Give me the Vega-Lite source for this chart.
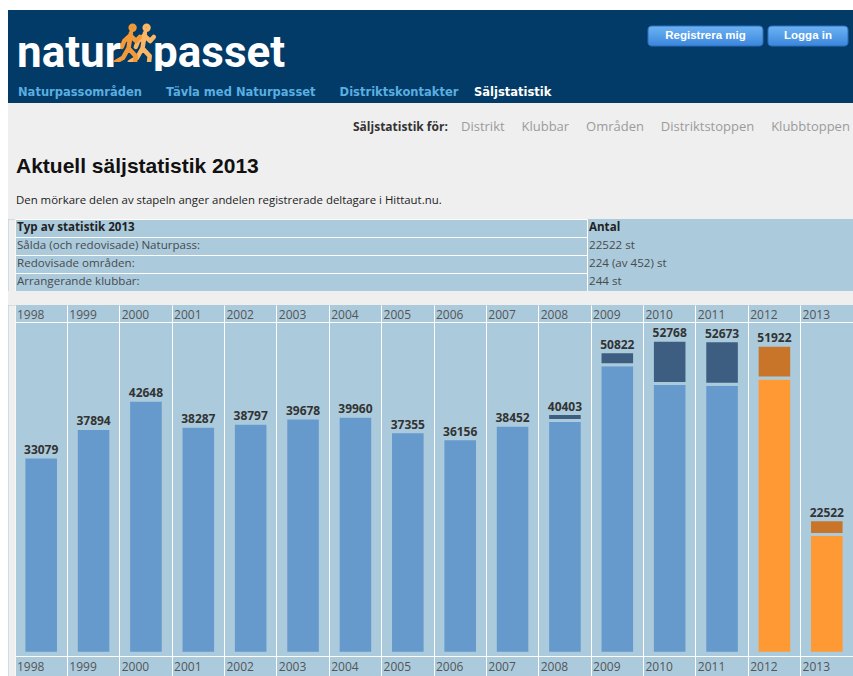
{
  "$schema": "https://vega.github.io/schema/vega-lite/v6.json",
  "background": "white",
  "padding": {"left": 8, "top": 10, "right": 0, "bottom": 0},
  "config": {"view": {"stroke": null}, "concat": {"spacing": 0}, "font": "Open Sans"},
  "spacing": 0,
  "bounds": "flush",
  "resolve": {"scale": {"color": "independent", "stroke": "independent", "shape": "independent"}},
  "vconcat": [
    {
      "width": 845, "height": 52, "view": {"fill": "#023b67"},
      "layer": [
        {
          "data": {"values": [{"knapp": "Registrera mig"}, {"knapp": "Logga in"}]},
          "mark": {"type": "point", "filled": true, "opacity": 1, "size": 13225,
            "fill": {"gradient": "linear", "x1": 0, "y1": 0, "x2": 0, "y2": 1, "stops": [{"offset": 0, "color": "#6db3f3"}, {"offset": 1, "color": "#3b86dc"}]},
            "stroke": "#2c6fbf", "strokeWidth": 1},
          "encoding": {
            "x": {"field": "knapp", "type": "nominal", "scale": {"type": "point", "domain": ["Registrera mig", "Logga in"], "range": [697.5, 800], "padding": 0}, "axis": null},
            "shape": {"field": "knapp", "type": "nominal", "scale": {"domain": ["Registrera mig", "Logga in"], "range": [
              "M-0.9304,-0.1739L0.9304,-0.1739Q1,-0.1739 1,-0.1043L1,0.1043Q1,0.1739 0.9304,0.1739L-0.9304,0.1739Q-1,0.1739 -1,0.1043L-1,-0.1043Q-1,-0.1739 -0.9304,-0.1739Z",
              "M-0.6261,-0.1739L0.6261,-0.1739Q0.6957,-0.1739 0.6957,-0.1043L0.6957,0.1043Q0.6957,0.1739 0.6261,0.1739L-0.6261,0.1739Q-0.6957,0.1739 -0.6957,0.1043L-0.6957,-0.1043Q-0.6957,-0.1739 -0.6261,-0.1739Z"
            ]}, "legend": null}
          }
        },
        {
          "data": {"values": [{"knapp": "Registrera mig"}, {"knapp": "Logga in"}]},
          "mark": {"type": "text", "font": "Liberation Sans Narrow, Liberation Sans", "fontWeight": "bold", "fontSize": 11.5, "fill": "#ffffff", "align": "center", "baseline": "middle"},
          "encoding": {
            "text": {"field": "knapp"},
            "x": {"field": "knapp", "type": "nominal", "scale": {"type": "point", "domain": ["Registrera mig", "Logga in"], "range": [697.5, 800], "padding": 0}, "axis": null}
          }
        },
        {
          "data": {"values": [{"figur": "höger"}, {"figur": "vänster"}]},
          "mark": {"type": "point", "filled": false, "opacity": 1, "size": 2304, "strokeWidth": 4.5, "strokeCap": "round", "strokeJoin": "round",
            "shape": "M0.07,-0.342A0.08,0.08 0 1,1 0.23,-0.342A0.08,0.08 0 1,1 0.07,-0.342Z M0.08,-0.122L-0.02,0.508L0.28,0.838L0.22,1.378 M-0.02,0.508L-0.25,0.908L-0.55,1.078 M0.05,-0.022L0.3,0.208L0.45,0.038 M0.05,-0.022L-0.2,0.208L-0.3,0.458"},
          "encoding": {
            "x": {"field": "figur", "type": "nominal", "scale": {"type": "point", "domain": ["vänster", "höger"], "range": [121, 135], "padding": 0}, "axis": null},
            "stroke": {"field": "figur", "type": "nominal", "scale": {"domain": ["vänster", "höger"], "range": ["#f3993a", "#fbb766"]}, "legend": null}
          }
        }
      ],
      "resolve": {"scale": {"x": "independent"}}
    },
    {
      "width": 845, "height": 9, "view": {"fill": "#023b67"},
      "data": {"values": [{"ord": "natur"}, {"ord": "passet"}]},
      "mark": {"type": "text", "font": "Roboto", "fontWeight": "bold", "fontSize": 44, "fill": "#ffffff", "align": "left", "baseline": "alphabetic"},
      "encoding": {
        "text": {"field": "ord"},
        "x": {"field": "ord", "type": "nominal", "scale": {"type": "point", "domain": ["natur", "passet"], "range": [9, 145], "padding": 0}, "axis": null}
      }
    },
    {
      "width": 845, "height": 32, "view": {"fill": "#023b67"},
      "data": {"values": [
        {"meny": "Naturpassområden\u00a0\u00a0\u00a0\u00a0\u00a0\u00a0Tävla med Naturpasset\u00a0\u00a0\u00a0\u00a0\u00a0\u00a0Distriktskontakter", "aktiv": "nej"},
        {"meny": "Säljstatistik", "aktiv": "ja"}
      ]},
      "mark": {"type": "text", "font": "DejaVu Sans", "fontWeight": "bold", "fontSize": 11.5, "align": "left", "baseline": "top"},
      "encoding": {
        "text": {"field": "meny"},
        "x": {"field": "meny", "type": "nominal", "sort": null, "scale": {"type": "point", "range": [10, 466], "padding": 0}, "axis": null},
        "color": {"field": "aktiv", "type": "nominal", "scale": {"domain": ["nej", "ja"], "range": ["#5aaee0", "#ffffff"]}, "legend": null}
      }
    },
    {
      "width": 845, "height": 55, "view": {"fill": "#efefef"},
      "encoding": {
        "x": {"field": "text", "type": "nominal", "scale": {"type": "point", "domain": ["Säljstatistik för:", "Distrikt\u00a0\u00a0\u00a0\u00a0\u00a0Klubbar\u00a0\u00a0\u00a0\u00a0\u00a0Områden\u00a0\u00a0\u00a0\u00a0\u00a0Distriktstoppen\u00a0\u00a0\u00a0\u00a0\u00a0Klubbtoppen"], "range": [345, 453], "padding": 0}, "axis": null},
        "text": {"field": "text"}
      },
      "layer": [
        {
          "data": {"values": [{"text": "Säljstatistik för:"}]},
          "mark": {"type": "text", "font": "Open Sans", "fontWeight": "bold", "fontSize": 12, "fill": "#333333", "align": "left", "baseline": "alphabetic"}
        },
        {
          "data": {"values": [{"text": "Distrikt\u00a0\u00a0\u00a0\u00a0\u00a0Klubbar\u00a0\u00a0\u00a0\u00a0\u00a0Områden\u00a0\u00a0\u00a0\u00a0\u00a0Distriktstoppen\u00a0\u00a0\u00a0\u00a0\u00a0Klubbtoppen"}]},
          "mark": {"type": "text", "font": "Open Sans", "fontSize": 13, "fill": "#9b9b9b", "align": "left", "baseline": "alphabetic", "limit": 390, "ellipsis": ""}
        }
      ]
    },
    {
      "width": 845, "height": 30, "view": {"fill": "#efefef"},
      "data": {"values": [{"text": "Aktuell säljstatistik 2013"}]},
      "mark": {"type": "text", "font": "Liberation Sans", "fontWeight": "bold", "fontSize": 21, "fill": "#111111", "align": "left", "baseline": "alphabetic"},
      "encoding": {
        "text": {"field": "text"},
        "x": {"field": "text", "type": "nominal", "scale": {"type": "point", "range": [8, 8], "padding": 0}, "axis": null}
      }
    },
    {
      "width": 845, "height": 31, "view": {"fill": "#efefef"},
      "data": {"values": [{"text": "Den mörkare delen av stapeln anger andelen registrerade deltagare i Hittaut.nu."}]},
      "mark": {"type": "text", "font": "Open Sans", "fontSize": 11.4, "fill": "#222222", "align": "left", "baseline": "alphabetic"},
      "encoding": {
        "text": {"field": "text"},
        "x": {"field": "text", "type": "nominal", "scale": {"type": "point", "range": [8, 8], "padding": 0}, "axis": null}
      }
    },
    {
      "width": 845, "height": 72, "view": {"fill": "#abcbdd"},
      "data": {"values": [
        {"rad": "Typ av statistik 2013", "kolumn": "typ", "text": "Typ av statistik 2013", "rubrik": "ja"},
        {"rad": "Typ av statistik 2013", "kolumn": "antal", "text": "Antal", "rubrik": "ja"},
        {"rad": "Sålda (och redovisade) Naturpass:", "kolumn": "typ", "text": "Sålda (och redovisade) Naturpass:", "rubrik": "nej"},
        {"rad": "Sålda (och redovisade) Naturpass:", "kolumn": "antal", "text": "22522 st", "rubrik": "nej"},
        {"rad": "Redovisade områden:", "kolumn": "typ", "text": "Redovisade områden:", "rubrik": "nej"},
        {"rad": "Redovisade områden:", "kolumn": "antal", "text": "224 (av 452) st", "rubrik": "nej"},
        {"rad": "Arrangerande klubbar:", "kolumn": "typ", "text": "Arrangerande klubbar:", "rubrik": "nej"},
        {"rad": "Arrangerande klubbar:", "kolumn": "antal", "text": "244 st", "rubrik": "nej"}
      ]},
      "encoding": {
        "y": {"field": "rad", "type": "nominal",
          "scale": {"type": "band", "domain": ["Typ av statistik 2013", "Sålda (och redovisade) Naturpass:", "Redovisade områden:", "Arrangerande klubbar:"], "paddingInner": 0, "paddingOuter": 0},
          "axis": {"orient": "left", "offset": -3.5, "grid": true, "gridColor": "#ffffff", "gridWidth": 1, "gridOpacity": 1, "bandPosition": 0,
            "labels": false, "ticks": false, "domain": true, "domainColor": "#efefef", "domainWidth": 7, "title": null}},
        "x": {"field": "kolumn", "type": "nominal",
          "scale": {"type": "point", "domain": ["typ", "antal"], "range": [7, 579], "padding": 0},
          "axis": {"grid": true, "gridColor": "#ffffff", "gridWidth": 1, "gridOpacity": 1, "labels": false, "ticks": false, "domain": false, "title": null}},
        "text": {"field": "text"}
      },
      "layer": [
        {
          "transform": [{"filter": "datum.rubrik == 'nej'"}],
          "mark": {"type": "text", "align": "left", "baseline": "middle", "dx": 2, "font": "Open Sans", "fontSize": 11.6, "fill": "#4a4a4a"}
        },
        {
          "transform": [{"filter": "datum.rubrik == 'ja'"}],
          "mark": {"type": "text", "align": "left", "baseline": "middle", "dx": 2, "font": "Open Sans", "fontSize": 11.6, "fontWeight": "bold", "fill": "#222222"}
        }
      ]
    },
    {
      "width": 845, "height": 14, "view": {"fill": "#efefef"},
      "data": {"values": [{}]},
      "mark": {"type": "text"},
      "encoding": {"text": {"value": ""}}
    },
    {
      "width": 845, "height": 371, "view": {"fill": "#abcbdd"},
      "data": {"values": [
        {"år": "1998", "del": "övriga", "kategori": "övriga, 1998–2011", "antal": 33079},
        {"år": "1999", "del": "övriga", "kategori": "övriga, 1998–2011", "antal": 37894},
        {"år": "2000", "del": "övriga", "kategori": "övriga, 1998–2011", "antal": 42648},
        {"år": "2001", "del": "övriga", "kategori": "övriga, 1998–2011", "antal": 38287},
        {"år": "2002", "del": "övriga", "kategori": "övriga, 1998–2011", "antal": 38797},
        {"år": "2003", "del": "övriga", "kategori": "övriga, 1998–2011", "antal": 39678},
        {"år": "2004", "del": "övriga", "kategori": "övriga, 1998–2011", "antal": 39960},
        {"år": "2005", "del": "övriga", "kategori": "övriga, 1998–2011", "antal": 37355},
        {"år": "2006", "del": "övriga", "kategori": "övriga, 1998–2011", "antal": 36156},
        {"år": "2007", "del": "övriga", "kategori": "övriga, 1998–2011", "antal": 38452},
        {"år": "2008", "del": "övriga", "kategori": "övriga, 1998–2011", "antal": 39223},
        {"år": "2008", "del": "registrerade", "kategori": "registrerade, 1998–2011", "antal": 1180},
        {"år": "2009", "del": "övriga", "kategori": "övriga, 1998–2011", "antal": 48632},
        {"år": "2009", "del": "registrerade", "kategori": "registrerade, 1998–2011", "antal": 2190},
        {"år": "2010", "del": "övriga", "kategori": "övriga, 1998–2011", "antal": 45468},
        {"år": "2010", "del": "registrerade", "kategori": "registrerade, 1998–2011", "antal": 7300},
        {"år": "2011", "del": "övriga", "kategori": "övriga, 1998–2011", "antal": 45373},
        {"år": "2011", "del": "registrerade", "kategori": "registrerade, 1998–2011", "antal": 7300},
        {"år": "2012", "del": "övriga", "kategori": "övriga, 2012–2013", "antal": 46412},
        {"år": "2012", "del": "registrerade", "kategori": "registrerade, 2012–2013", "antal": 5510},
        {"år": "2013", "del": "övriga", "kategori": "övriga, 2012–2013", "antal": 20022},
        {"år": "2013", "del": "registrerade", "kategori": "registrerade, 2012–2013", "antal": 2500}
      ]},
      "layer": [
        {
          "mark": {"type": "bar", "width": {"band": 0.66}, "stroke": "#abcbdd", "strokeWidth": 3},
          "encoding": {
            "x": {"field": "år", "type": "ordinal",
              "scale": {"type": "band", "range": [7, 845], "paddingInner": 0, "paddingOuter": 0},
              "axis": {"orient": "top", "offset": -17, "grid": true, "gridColor": "#ffffff", "gridWidth": 1, "gridOpacity": 1, "bandPosition": 0,
                "ticks": false, "domain": true, "domainColor": "#ffffff", "domainWidth": 1,
                "labelAlign": "left", "labelBaseline": "alphabetic", "labelPadding": 4, "labelOffset": -24.2,
                "labelFont": "Open Sans", "labelFontSize": 12, "labelColor": "#555555", "labelOverlap": false, "labelFlush": false, "labelAngle": 0, "title": null}},
            "y": {"field": "antal", "type": "quantitative", "stack": "zero",
              "scale": {"domain": [-3845, 58718], "nice": false, "zero": false},
              "axis": {"orient": "left", "offset": -3.5, "domain": true, "domainColor": "#efefef", "domainWidth": 7, "labels": false, "ticks": false, "grid": false, "title": null}},
            "color": {"field": "kategori", "type": "nominal",
              "scale": {"domain": ["övriga, 1998–2011", "registrerade, 1998–2011", "övriga, 2012–2013", "registrerade, 2012–2013"], "range": ["#6699cc", "#3d5e80", "#ff9933", "#c87429"]},
              "legend": null},
            "order": {"field": "del", "sort": "descending"}
          }
        },
        {
          "mark": {"type": "text", "baseline": "alphabetic", "align": "center", "dy": -3, "font": "Open Sans", "fontWeight": "bold", "fontSize": 12, "fill": "#333333"},
          "encoding": {
            "x": {"field": "år", "type": "ordinal",
              "scale": {"type": "band", "range": [7, 845], "paddingInner": 0, "paddingOuter": 0},
              "axis": {"orient": "bottom", "offset": -20, "grid": false, "bandPosition": 0,
                "ticks": false, "domain": true, "domainColor": "#ffffff", "domainWidth": 1,
                "labelAlign": "left", "labelBaseline": "alphabetic", "labelPadding": 14, "labelOffset": -24.2,
                "labelFont": "Open Sans", "labelFontSize": 12, "labelColor": "#555555", "labelOverlap": false, "labelFlush": false, "labelAngle": 0, "title": null}},
            "y": {"field": "antal", "type": "quantitative", "aggregate": "sum",
              "axis": {"orient": "left", "offset": -3.5, "domain": true, "domainColor": "#efefef", "domainWidth": 7, "labels": false, "ticks": false, "grid": false, "title": null}},
            "text": {"field": "antal", "type": "quantitative", "aggregate": "sum", "format": "d"}
          }
        }
      ],
      "resolve": {"axis": {"x": "independent"}}
    }
  ]
}
